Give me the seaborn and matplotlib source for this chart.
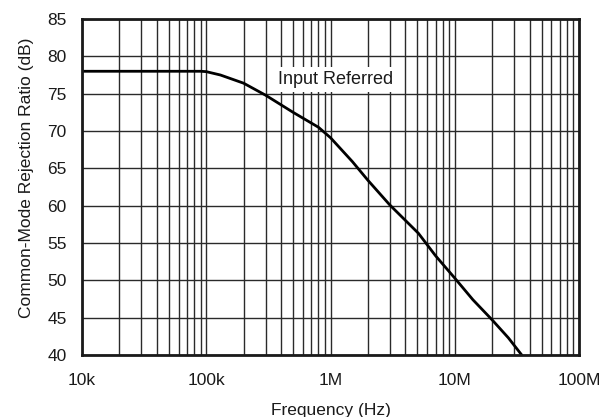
import numpy as np
import pandas as pd
import matplotlib
matplotlib.use("Agg")
import matplotlib.pyplot as plt
import seaborn as sns
from matplotlib.ticker import LogLocator, FixedLocator, NullFormatter

# CMRR vs frequency
freq_hz = [1e4, 3e4, 9e4, 1.0e5, 1.3e5, 2.0e5, 3.0e5, 5.0e5, 8.0e5, 1.0e6,
           1.5e6, 2.0e6, 3.0e6, 5.1e6, 7.0e6, 1.0e7, 1.4e7, 2.0e7, 2.7e7, 3.46e7]
cmrr_db = [78.0, 78.0, 78.0, 77.95, 77.5, 76.4, 74.8, 72.5, 70.5, 69.1,
           65.9, 63.4, 60.1, 56.3, 53.3, 50.3, 47.4, 44.7, 42.3, 40.0]

x_ticks = [1e4, 1e5, 1e6, 1e7, 1e8]
x_labels = ["10k", "100k", "1M", "10M", "100M"]
y_ticks = [40, 45, 50, 55, 60, 65, 70, 75, 80, 85]

data = pd.DataFrame({"freq": freq_hz, "cmrr": cmrr_db})

sns.set_style("white")
plt.rcParams["font.family"] = ["Liberation Sans", "DejaVu Sans"]

fig = plt.figure(figsize=(6.01, 4.17), dpi=100)
ax = fig.add_axes([82 / 601, 1 - 355 / 417, 497 / 601, 336 / 417])

sns.lineplot(x="freq", y="cmrr", data=data, ax=ax, color="black", linewidth=2.0)

ax.set_xscale("log")
ax.set_xlim(1e4, 1e8)
ax.set_ylim(40, 85)
ax.xaxis.set_major_locator(FixedLocator(x_ticks))
ax.set_xticklabels(x_labels)
ax.xaxis.set_minor_locator(LogLocator(base=10, subs=np.arange(2, 10)))
ax.xaxis.set_minor_formatter(NullFormatter())
ax.set_yticks(y_ticks)

ax.grid(True, which="major", color="#2a2a2a", linewidth=1.0)
ax.grid(True, which="minor", axis="x", color="#2a2a2a", linewidth=1.0)
ax.set_axisbelow(True)
ax.tick_params(which="both", length=0, labelsize=12.5, colors="#1a1a1a")
ax.tick_params(axis="x", pad=13)
ax.tick_params(axis="y", pad=11)

for s in ax.spines.values():
    s.set_visible(True)
    s.set_color("#1a1a1a")
    s.set_linewidth(2.0)

ax.text(1.1e6, 76.9, "Input Referred", ha="center", va="center", fontsize=13,
        color="#1a1a1a", zorder=5,
        bbox=dict(facecolor="white", edgecolor="none", pad=3))

ax.set_xlabel("Frequency (Hz)", fontsize=12.5, color="#1a1a1a")
ax.set_ylabel("Common-Mode Rejection Ratio (dB)", fontsize=12.5, color="#1a1a1a")
ax.xaxis.set_label_coords(0.5, -0.143)
ax.yaxis.set_label_coords(-0.112, 0.528)
ax.yaxis.label.set_va("center")

fig.savefig("out.png", dpi=100)
